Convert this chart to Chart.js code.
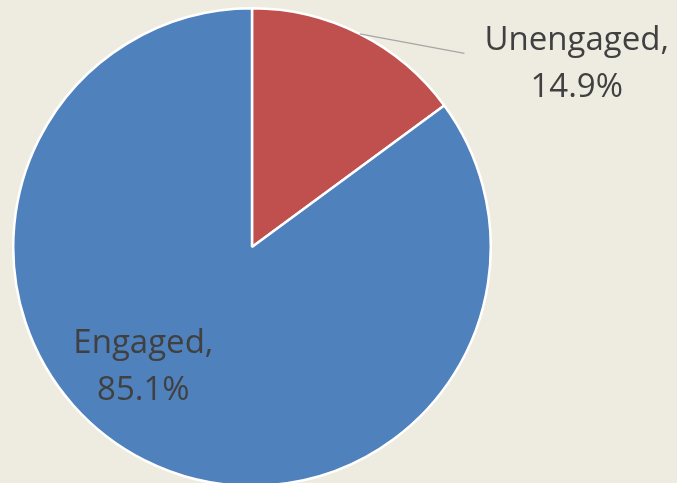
<!DOCTYPE html>
<html>
<head>
<meta charset="utf-8">
<script src="https://cdn.jsdelivr.net/npm/chart.js@4/dist/chart.umd.min.js"></script>
<style>
  html, body { margin: 0; padding: 0; background: #EEECE1; overflow: hidden; }
  #wrap { width: 677px; height: 483px; overflow: hidden; }
</style>
</head>
<body>
<div id="wrap"><canvas id="pie" width="677" height="490"></canvas></div>
<script>
// categories and values, clockwise from 12 o'clock
const categories = ["Unengaged", "Engaged"];
const shares = [14.9, 85.1];
const colors = ["#C0504D", "#4F81BD"];

const labelFont = "33px 'Open Sans', sans-serif";
const textColor = "#404040";

// draws the data labels (one outside with a leader line, one inside)
const pieLabels = {
  id: "pieLabels",
  afterDraw: function(chart) {
    const ctx = chart.ctx;
    const arcs = chart.getDatasetMeta(0).data;
    ctx.save();
    ctx.font = labelFont;
    ctx.fillStyle = textColor;
    ctx.textAlign = "center";
    ctx.textBaseline = "alphabetic";

    arcs.forEach(function(arc, i) {
      const p = arc.getProps(["x", "y", "startAngle", "endAngle", "outerRadius"], true);
      const mid = (p.startAngle + p.endAngle) / 2;
      const r = p.outerRadius;
      const lines = [categories[i] + ",", shares[i].toFixed(1) + "%"];
      let tx, ty;
      if (i === 0) {
        // outside label with leader line
        const sx = p.x + Math.cos(mid) * r;
        const sy = p.y + Math.sin(mid) * r;
        const ex = p.x + r * 0.89;
        const ey = sy + 19.5;
        ctx.strokeStyle = "#A6A6A6";
        ctx.lineWidth = 1.3;
        ctx.beginPath();
        ctx.moveTo(sx, sy);
        ctx.lineTo(ex, ey);
        ctx.stroke();
        tx = p.x + r * 1.36;
        ty = p.y - r * 0.825;
      } else {
        tx = p.x - r * 0.455;
        ty = p.y + r * 0.445;
      }
      ctx.fillText(lines[0], tx, ty);
      ctx.fillText(lines[1], tx, ty + 47);
    });
    ctx.restore();
  }
};

new Chart(document.getElementById("pie"), {
  type: "pie",
  data: {
    labels: categories,
    datasets: [{
      data: shares,
      backgroundColor: colors,
      borderColor: "#FFFFFF",
      borderWidth: 2.5
    }]
  },
  options: {
    responsive: false,
    animation: false,
    layout: { padding: { left: 12, top: 7, right: 185, bottom: 3 } },
    plugins: {
      legend: { display: false },
      tooltip: { enabled: false }
    }
  },
  plugins: [pieLabels]
});
</script>
</body>
</html>
